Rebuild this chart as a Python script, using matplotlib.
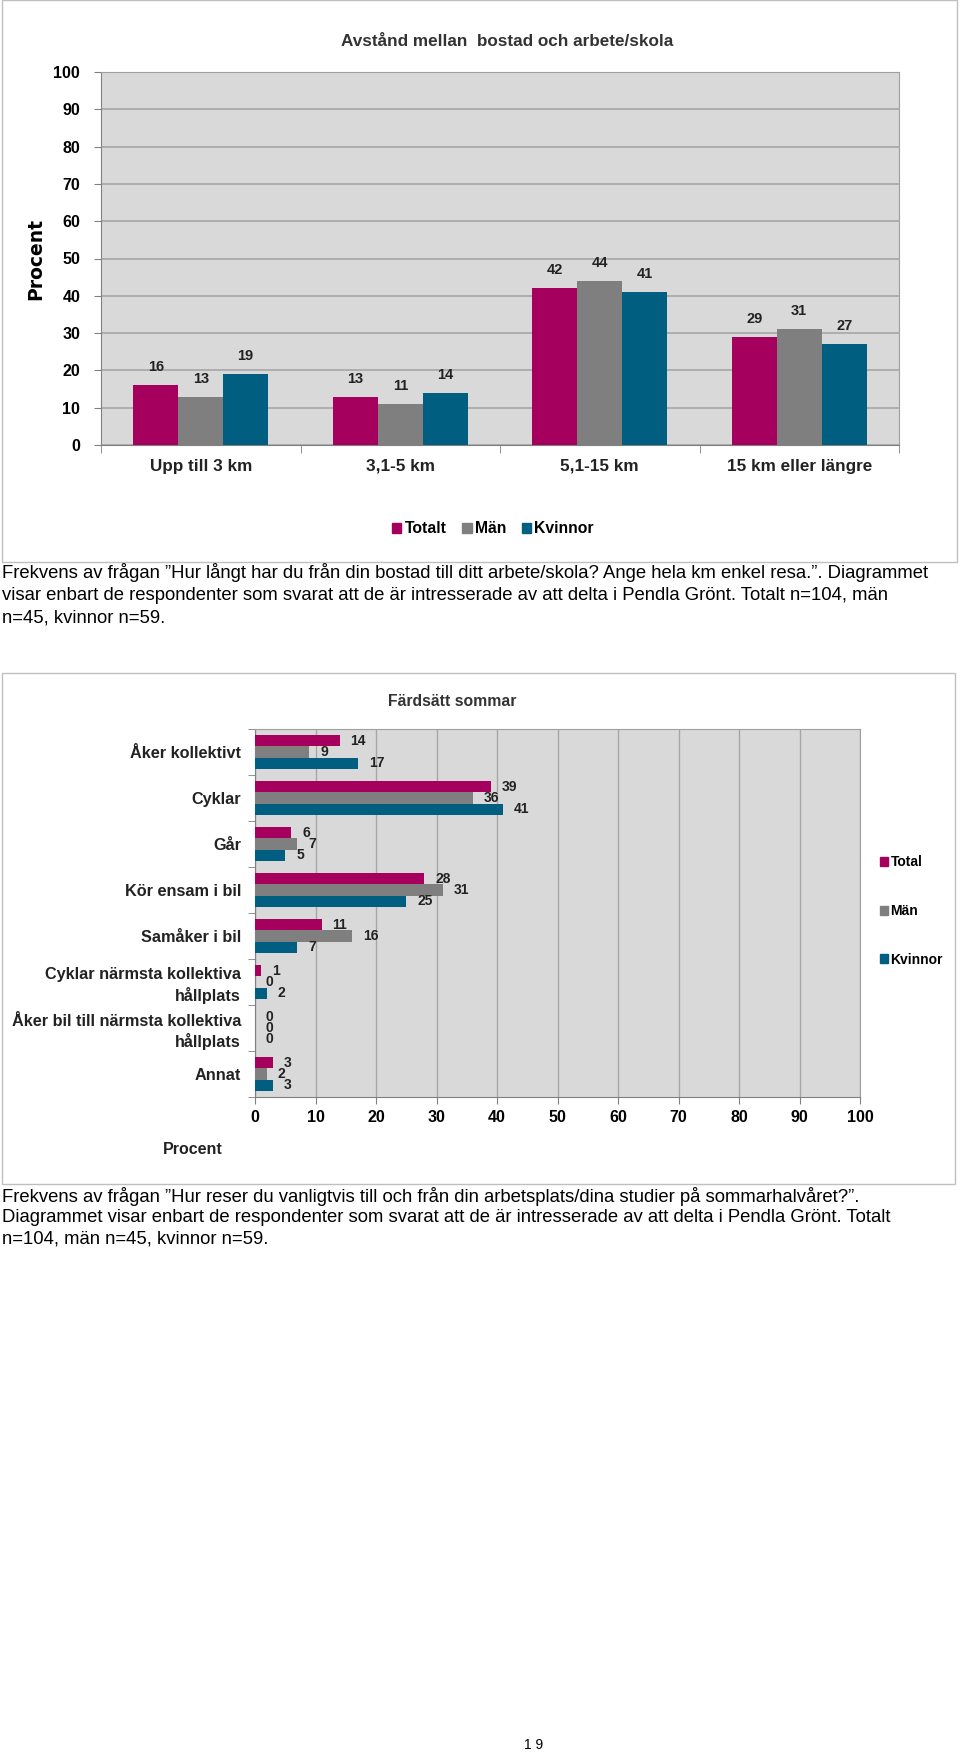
import numpy as np
import matplotlib.pyplot as plt
from matplotlib.patches import Rectangle, Patch

plt.rcParams['font.family'] = ['Liberation Sans', 'DejaVu Sans']

W, H = 960, 1757

# chart 1 data
dist_cats = ['Upp till 3 km', '3,1-5 km', '5,1-15 km', '15 km eller längre']
dist_totalt = [16, 13, 42, 29]
dist_man = [13, 11, 44, 31]
dist_kvinnor = [19, 14, 41, 27]

# chart 2 data
mode_cats = ['Åker kollektivt', 'Cyklar', 'Går', 'Kör ensam i bil', 'Samåker i bil',
             'Cyklar närmsta kollektiva\nhållplats', 'Åker bil till närmsta kollektiva\nhållplats', 'Annat']
mode_total = [14, 39, 6, 28, 11, 1, 0, 3]
mode_man = [9, 36, 7, 31, 16, 0, 0, 2]
mode_kvinnor = [17, 41, 5, 25, 7, 2, 0, 3]

caption1 = ['Frekvens av frågan \u201dHur långt har du från din bostad till ditt arbete/skola? Ange hela km enkel resa.\u201d. Diagrammet',
            'visar enbart de respondenter som svarat att de är intresserade av att delta i Pendla Grönt. Totalt n=104, män',
            'n=45, kvinnor n=59.']
caption2 = ['Frekvens av frågan \u201dHur reser du vanligtvis till och från din arbetsplats/dina studier på sommarhalvåret?\u201d.',
            'Diagrammet visar enbart de respondenter som svarat att de är intresserade av att delta i Pendla Grönt. Totalt',
            'n=104, män n=45, kvinnor n=59.']

c_tot = '#A6005E'
c_man = '#7F7F7F'
c_kv = '#005E80'
bg = '#D9D9D9'
grid_c = '#A6A6A6'


def rect(l, t, r, b):
    return [l / W, 1 - b / H, (r - l) / W, (b - t) / H]


def fy(y):
    return 1 - y / H


fig = plt.figure(figsize=(W / 100, H / 100), dpi=100)

# frames
fig.patches.append(Rectangle((2 / W, fy(562)), 955 / W, 562 / H, transform=fig.transFigure,
                             fill=False, edgecolor='#BFBFBF', lw=1))
fig.patches.append(Rectangle((2 / W, fy(1184)), 953 / W, (1184 - 673) / H, transform=fig.transFigure,
                             fill=False, edgecolor='#BFBFBF', lw=1))

# ---- chart 1 ----
ax1 = fig.add_axes(rect(101, 72, 899, 445))
ax1.set_facecolor(bg)
x = np.arange(len(dist_cats))
bw = 0.225
for off, vals, col in [(-bw, dist_totalt, c_tot), (0, dist_man, c_man), (bw, dist_kvinnor, c_kv)]:
    bars = ax1.bar(x + off, vals, bw, color=col, zorder=3)
    for b, v in zip(bars, vals):
        ax1.text(b.get_x() + b.get_width() / 2, v + 4.8, str(v), ha='center', va='center',
                 fontsize=10.5, fontweight='bold', color='#222222')
ax1.set_xlim(-0.5, len(dist_cats) - 0.5)
ax1.set_ylim(0, 100)
ax1.set_yticks(np.arange(0, 101, 10))
ax1.yaxis.grid(True, color=grid_c, lw=1.2, zorder=0)
ax1.set_xticks(x)
ax1.set_xticklabels(dist_cats, fontsize=12.3, fontweight='bold', color='#222222')
ax1.set_xticks(np.arange(-0.5, len(dist_cats)), minor=True)
ax1.tick_params(axis='x', which='major', length=0, pad=10)
ax1.tick_params(axis='x', which='minor', length=6, color='#808080')
ax1.tick_params(axis='y', length=5, color='#808080', labelsize=11.5, pad=10)
for lab in ax1.get_yticklabels():
    lab.set_fontweight('bold')
for s in ax1.spines.values():
    s.set_color('#A0A0A0')
ax1.spines['bottom'].set_color('#808080')
ax1.spines['left'].set_color('#808080')
ax1.set_ylabel('Procent', fontsize=13.5, fontweight='bold', family='DejaVu Sans', labelpad=6)
fig.text(507 / W, fy(41), 'Avstånd mellan  bostad och arbete/skola', ha='center', va='center',
         fontsize=12.3, fontweight='bold', color='#333333')
fig.legend(handles=[Patch(color=c_tot, label='Totalt'), Patch(color=c_man, label='Män'),
                    Patch(color=c_kv, label='Kvinnor')],
           loc='center', bbox_to_anchor=(493 / W, fy(529)), ncol=3, frameon=False,
           handlelength=0.6, handleheight=0.6, handletextpad=0.2, columnspacing=1.0,
           prop={'size': 11.3, 'weight': 'bold'})

# captions 1
for i, line in enumerate(caption1):
    fig.text(2 / W, fy(573 + i * 22.4), line, ha='left', va='center', fontsize=13.3, color='black')

# ---- chart 2 ----
ax2 = fig.add_axes(rect(255, 729, 860, 1097))
ax2.set_facecolor(bg)
y = np.arange(len(mode_cats))
bh = 0.245
for off, vals, col in [(-bh, mode_total, c_tot), (0, mode_man, c_man), (bh, mode_kvinnor, c_kv)]:
    bars = ax2.barh(y + off, vals, bh, color=col, zorder=3)
    for b, v in zip(bars, vals):
        ax2.text(v + 1.8, b.get_y() + b.get_height() / 2, str(v), ha='left', va='center',
                 fontsize=10, fontweight='bold', color='#222222')
ax2.set_xlim(0, 100)
ax2.set_ylim(len(mode_cats) - 0.5, -0.5)
ax2.set_xticks(np.arange(0, 101, 10))
ax2.xaxis.grid(True, color=grid_c, lw=1.0, zorder=0)
ax2.set_yticks(y)
ax2.set_yticklabels(mode_cats, fontsize=11.7, fontweight='bold', color='#222222', linespacing=1.3)
ax2.set_yticks(np.arange(-0.5, len(mode_cats)), minor=True)
ax2.tick_params(axis='y', which='major', length=0, pad=10)
ax2.tick_params(axis='y', which='minor', length=5, color='#808080')
ax2.tick_params(axis='x', length=5, color='#808080', labelsize=11.5, pad=4)
for lab in ax2.get_xticklabels():
    lab.set_fontweight('bold')
for s in ax2.spines.values():
    s.set_color('#A0A0A0')
ax2.spines['bottom'].set_color('#808080')
ax2.spines['left'].set_color('#808080')
fig.text(193 / W, fy(1149), 'Procent', ha='center', va='center', fontsize=11.5, fontweight='bold', color='#222222')
fig.text(452 / W, fy(702), 'Färdsätt sommar', ha='center', va='center', fontsize=11.3,
         fontweight='bold', color='#333333')
fig.legend(handles=[Patch(color=c_tot, label='Total'), Patch(color=c_man, label='Män'),
                    Patch(color=c_kv, label='Kvinnor')],
           loc='center left', bbox_to_anchor=(867 / W, fy(911)), ncol=1, frameon=False,
           handlelength=0.6, handleheight=0.6, handletextpad=0.2, labelspacing=2.5,
           prop={'size': 10, 'weight': 'bold'})

# captions 2
for i, line in enumerate(caption2):
    fig.text(2 / W, fy(1197 + i * 21), line, ha='left', va='center', fontsize=13.3, color='black')

fig.text(534 / W, fy(1745), '1 9', ha='center', va='center', fontsize=10)

fig.savefig('out.png', dpi=100)
